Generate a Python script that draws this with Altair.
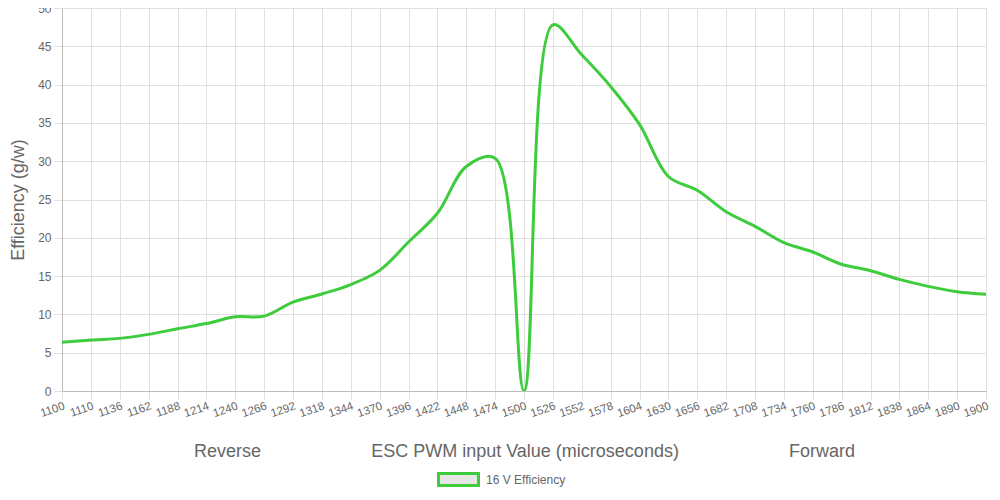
import altair as alt
import pandas as pd

pwm_labels = ["1100", "1110", "1136", "1162", "1188", "1214", "1240", "1266", "1292", "1318",
              "1344", "1370", "1396", "1422", "1448", "1474", "1500", "1526", "1552", "1578",
              "1604", "1630", "1656", "1682", "1708", "1734", "1760", "1786", "1812", "1838",
              "1864", "1890", "1900"]
efficiency = [6.35, 6.66, 6.87, 7.39, 8.13, 8.8, 9.68, 9.77, 11.6, 12.67,
              13.9, 15.75, 19.45, 23.2, 29.3, 30.4, 0.0, 47.8, 43.9, 39.76,
              34.8, 28.0, 26.2, 23.4, 21.5, 19.37, 18.15, 16.55, 15.7, 14.57,
              13.66, 12.96, 12.62]
series_name = "16 V Efficiency"

df = pd.DataFrame({"pwm": pwm_labels, "eff": efficiency, "series": series_name})

GREEN = "#3ccc3c"
TXT = "#666666"
GRID = "#e0e0e0"
FONT = "Liberation Sans"
NB = "\u00a0" * 22
x_title = "Reverse" + NB + "ESC PWM input Value (microseconds)" + NB + "Forward"

chart = alt.Chart(df).mark_line(
    interpolate="catmull-rom", strokeWidth=3, clip=True
).encode(
    x=alt.X("pwm:O", sort=None,
            scale=alt.Scale(type="point", padding=0),
            axis=alt.Axis(title=x_title, labelAngle=341, labelAlign="right",
                          labelBaseline="top", labelPadding=1, labelFontSize=11.5,
                          tickSize=8, grid=True, titlePadding=23)),
    y=alt.Y("eff:Q", scale=alt.Scale(domain=[0, 50], nice=False),
            axis=alt.Axis(title="Efficiency (g/w)", values=list(range(0, 51, 5)),
                          tickSize=8, labelPadding=3, titlePadding=10, grid=True)),
    color=alt.Color("series:N", scale=alt.Scale(range=[GREEN]),
                    legend=alt.Legend(title=None, orient="none", legendX=375, legendY=450,
                                      symbolType="M-1,-0.3L1,-0.3L1,0.3L-1,0.3Z",
                                      symbolSize=1600, symbolStrokeWidth=3,
                                      symbolFillColor="#e6e6e6", symbolStrokeColor=GREEN,
                                      labelFontSize=12, labelColor=TXT, labelFont=FONT,
                                      symbolOffset=0, labelOffset=6)),
).properties(
    width=924, height=383,
    background="white",
    autosize=alt.AutoSizeParams(type="none"),
    padding={"left": 54, "top": 0, "right": 5, "bottom": 96},
).configure_axis(
    labelFont=FONT, titleFont=FONT, labelColor=TXT, titleColor=TXT,
    labelFontSize=12, titleFontSize=18, titleFontWeight="normal",
    gridColor=GRID, tickColor=GRID, domainColor="#bdbdbd", gridWidth=1,
).configure_view(stroke=None)

chart.save("out.html", embed_options={"renderer": "svg", "actions": False})
